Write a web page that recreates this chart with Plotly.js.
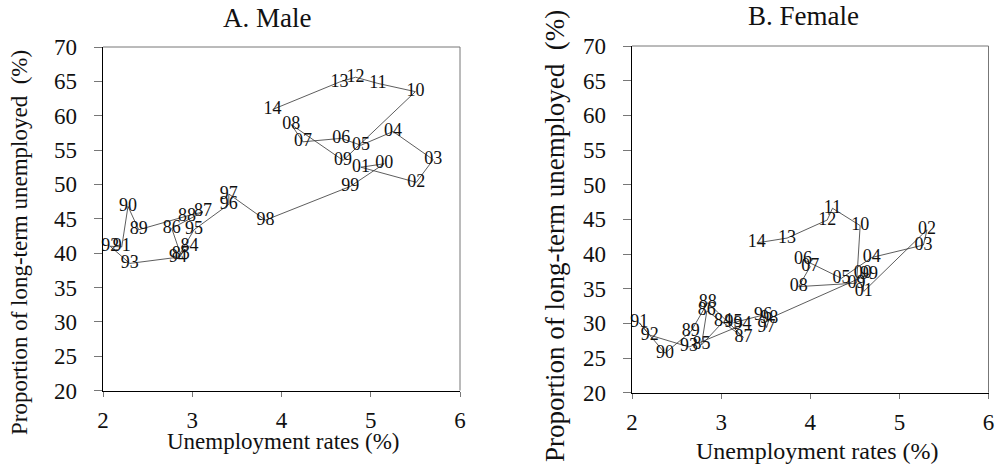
<!DOCTYPE html>
<html>
<head>
<meta charset="utf-8">
<script src="https://cdn.plot.ly/plotly-3.0.1.min.js"></script>
<style>html,body{margin:0;padding:0;background:#fff;}#chart{width:1002px;height:467px;}</style>
</head>
<body>
<div id="chart"></div>
<script>
// Year labels (1984-2014)
const years = ["84","85","86","87","88","89","90","91","92","93","94","95","96","97","98","99",
               "00","01","02","03","04","05","06","07","08","09","10","11","12","13","14"];

// A. Male: unemployment rate (%) and proportion of long-term unemployed (%)
const maleUnemp = [2.97,2.87,2.77,3.12,2.94,2.40,2.28,2.21,2.08,2.30,2.84,3.02,3.41,3.41,3.82,4.77,
                   5.15,4.89,5.51,5.70,5.25,4.89,4.67,4.24,4.11,4.69,5.50,5.08,4.83,4.65,3.90];
const maleLong  = [41.0,39.8,43.6,46.0,45.4,43.4,46.8,40.9,41.0,38.5,39.4,43.4,47.1,48.6,44.8,49.7,
                   53.0,52.5,50.3,53.6,57.7,55.7,56.7,56.2,58.7,53.5,63.5,64.7,65.6,64.9,60.9];

// B. Female
const femUnemp = [3.02,2.78,2.84,3.25,2.85,2.66,2.37,2.08,2.20,2.64,3.24,3.14,3.47,3.51,3.54,4.66,
                  4.59,4.60,5.31,5.27,4.69,4.35,3.92,4.00,3.87,4.52,4.56,4.25,4.19,3.74,3.40];
const femLong  = [30.2,26.9,31.8,28.0,33.0,28.8,25.7,30.1,28.3,26.6,29.8,30.1,31.2,29.4,30.7,37.1,
                  37.2,34.6,43.5,41.3,39.5,36.5,39.2,38.2,35.3,35.8,44.1,46.6,44.9,42.3,41.6];

const xTicks = [2,3,4,5,6];
const yTicks = [20,25,30,35,40,45,50,55,60,65,70];

const FONT = "Liberation Serif";
const W = 1002, H = 467;
const fx = p => p / W;
const fy = p => 1 - p / H;

function series(x, y, xa, ya) {
  return {
    x: x, y: y, text: years, xaxis: xa, yaxis: ya,
    type: 'scatter', mode: 'lines+text',
    line: {color: '#333333', width: 0.8},
    textposition: 'middle center',
    textfont: {family: FONT, size: 18, color: '#111111'},
    cliponaxis: false, hoverinfo: 'skip', showlegend: false
  };
}

const data = [
  series(maleUnemp, maleLong, 'x', 'y'),
  series(femUnemp, femLong, 'x2', 'y2')
];

function xAxis(domain, anchor) {
  return {
    domain: domain, anchor: anchor, range: [2, 6], tickvals: xTicks, ticktext: xTicks.map(String),
    showgrid: false, zeroline: false, showline: true, linecolor: '#000', linewidth: 1.5,
    ticks: 'outside', ticklen: 5, tickcolor: '#777', tickwidth: 1,
    tickfont: {family: FONT, size: 23, color: '#111'}, ticklabelstandoff: 3,
    automargin: false, fixedrange: true
  };
}
function yAxis(domain, anchor) {
  return {
    domain: domain, anchor: anchor, range: [20, 70], tickvals: yTicks, ticktext: yTicks.map(String),
    showgrid: false, zeroline: false, showline: true, linecolor: '#000', linewidth: 1.5,
    ticks: 'outside', ticklen: 8, tickcolor: '#777', tickwidth: 1,
    tickfont: {family: FONT, size: 23, color: '#111'}, ticklabelstandoff: 12,
    automargin: false, fixedrange: true
  };
}

const frame = (xr, yr) => ([
  {type: 'line', xref: xr + ' domain', yref: yr + ' domain', x0: 0, x1: 1, y0: 1, y1: 1,
   line: {color: '#777', width: 1}},
  {type: 'line', xref: xr + ' domain', yref: yr + ' domain', x0: 1, x1: 1, y0: 0, y1: 1,
   line: {color: '#777', width: 1}}
]);

const ann = (text, x, y, size, angle) => ({
  text: text, xref: 'paper', yref: 'paper', x: fx(x), y: fy(y),
  xanchor: 'center', yanchor: 'middle', showarrow: false, textangle: angle || 0,
  font: {family: FONT, size: size, color: '#111'}
});

const layout = {
  width: W, height: H,
  font: {family: FONT, color: '#111'},
  margin: {l: 0, r: 0, t: 0, b: 0, pad: 0},
  paper_bgcolor: '#fff', plot_bgcolor: '#fff',
  xaxis: xAxis([fx(103), fx(460)], 'y'),
  yaxis: yAxis([fy(390.5), fy(47)], 'x'),
  xaxis2: xAxis([fx(632), fx(988.5)], 'y2'),
  yaxis2: yAxis([fy(392.7), fy(46)], 'x2'),
  shapes: frame('x', 'y').concat(frame('x2', 'y2')),
  annotations: [
    ann('A. Male', 267, 18, 27),
    ann('B. Female', 803, 16, 27),
    ann('Unemployment rates (%)', 283, 441, 23),
    ann('Unemployment rates (%)', 817, 451, 24),
    ann('Proportion of long-term unemployed  (%)', 19, 243, 23, -90),
    ann('Proportion of long-term unemployed  (%)', 555, 236, 27, -90)
  ],
  showlegend: false
};

Plotly.newPlot('chart', data, layout, {displayModeBar: false, staticPlot: true});
</script>
</body>
</html>
